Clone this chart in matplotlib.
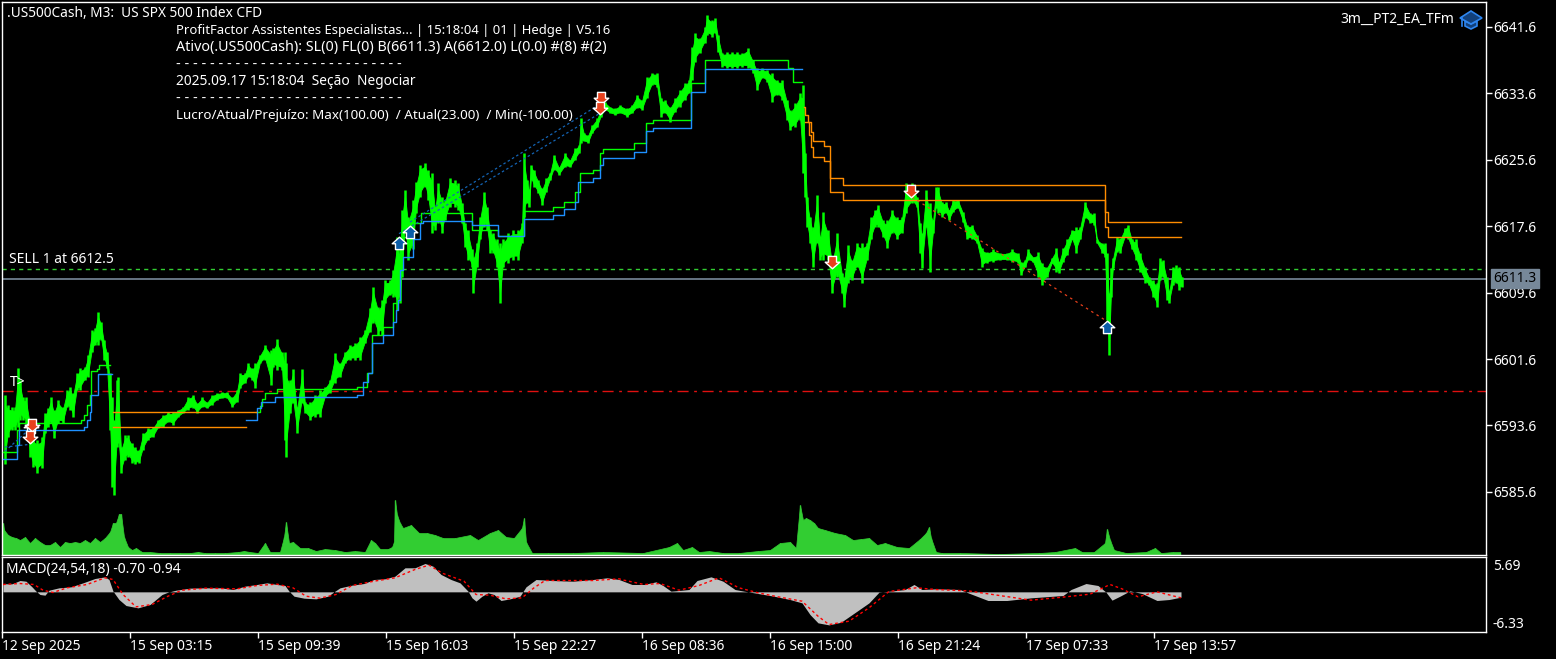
import numpy as np
import matplotlib.pyplot as plt
from matplotlib.path import Path
from matplotlib.patches import Polygon

W, H = 1556, 659
plt.rcParams['font.family'] = ['Noto Sans', 'DejaVu Sans']

# price range, sampled every few M3 bars
bars = [2, 5, 9, 12, 15, 17, 20, 23, 27, 30, 34, 39, 42, 45, 48, 51, 55, 60, 64, 67, 70, 74, 77, 82, 85, 89, 92, 95, 98, 101,
        104, 107, 109, 111, 114, 115, 118, 122, 125, 129, 132, 136, 140, 145, 150, 155, 160, 165, 170, 175, 180, 185, 190, 194, 199, 204, 209, 214, 219, 224,
        229, 234, 237, 242, 245, 249, 252, 257, 262, 268, 270, 274, 279, 282, 283, 287, 290, 294, 299, 302, 307, 312, 317, 322, 327, 332, 337, 342, 347, 352,
        357, 362, 367, 370, 375, 379, 382, 387, 390, 394, 397, 399, 402, 405, 410, 413, 417, 422, 425, 429, 432, 435, 439, 442, 447, 452, 455, 459, 462, 465,
        469, 470, 474, 477, 481, 484, 487, 490, 494, 497, 500, 505, 510, 515, 519, 521, 524, 526, 528, 531, 535, 539, 543, 547, 551, 556, 562, 567, 572, 576,
        578, 581, 585, 589, 594, 598, 602, 607, 612, 617, 624, 629, 634, 639, 644, 649, 654, 658, 662, 667, 672, 677, 682, 686, 689, 692, 697, 702, 704, 709,
        712, 715, 719, 724, 729, 734, 739, 745, 750, 754, 759, 764, 769, 774, 779, 784, 787, 792, 797, 800, 802, 804, 807, 810, 814, 817, 820, 825, 829, 834,
        839, 841, 845, 849, 854, 859, 864, 868, 872, 875, 880, 884, 889, 894, 899, 903, 909, 914, 917, 919, 923, 927, 930, 933, 935, 939, 943, 946, 950, 955,
        960, 964, 969, 974, 979, 984, 990, 997, 1004, 1009, 1015, 1018, 1022, 1025, 1030, 1035, 1039, 1044, 1049, 1053, 1056, 1060, 1064, 1069, 1073, 1077, 1082, 1087, 1091, 1094,
        1099, 1102, 1104, 1106, 1108, 1110, 1114, 1117, 1122, 1125, 1129, 1133, 1137, 1142, 1146, 1150, 1154, 1157, 1160, 1164, 1166, 1170, 1173, 1176, 1179]
highs = [6597.3, 6596.1, 6595.8, 6595.8, 6600.5, 6599.1, 6597.0, 6597.0, 6594.3, 6592.2, 6591.9, 6592.2, 6595.1, 6595.7, 6597.0, 6595.5, 6596.7, 6595.8, 6597.9, 6598.2, 6597.5, 6599.9, 6600.5, 6600.7, 6602.1, 6605.1, 6605.3, 6607.3, 6606.1, 6603.9,
         6602.5, 6599.9, 6597.0, 6594.3, 6599.1, 6599.4, 6591.0, 6592.5, 6592.5, 6591.5, 6591.0, 6590.7, 6592.7, 6593.3, 6593.4, 6594.3, 6594.9, 6595.2, 6595.2, 6595.5, 6595.8, 6597.0, 6597.3, 6596.3, 6597.0, 6596.4, 6597.3, 6597.5, 6597.6, 6597.6,
         6597.0, 6597.9, 6599.9, 6599.9, 6601.1, 6600.5, 6601.1, 6602.1, 6603.3, 6602.7, 6602.9, 6604.0, 6602.5, 6602.5, 6601.1, 6599.1, 6600.4, 6595.8, 6600.4, 6596.4, 6596.4, 6597.3, 6597.9, 6598.2, 6599.1, 6602.3, 6601.1, 6602.5, 6603.3, 6603.5,
         6604.3, 6605.1, 6607.8, 6610.3, 6607.9, 6608.7, 6611.1, 6611.1, 6612.3, 6616.3, 6614.8, 6619.6, 6622.0, 6618.7, 6620.8, 6622.9, 6625.0, 6625.2, 6624.4, 6624.0, 6619.9, 6622.8, 6621.1, 6620.8, 6623.4, 6623.2, 6622.8, 6620.4, 6618.0, 6617.2,
         6614.8, 6613.9, 6615.6, 6618.7, 6621.7, 6619.9, 6617.2, 6616.8, 6616.0, 6615.6, 6616.0, 6616.8, 6617.2, 6617.2, 6618.0, 6626.4, 6623.2, 6622.0, 6625.0, 6624.4, 6623.2, 6622.2, 6623.4, 6624.0, 6626.2, 6624.7, 6626.4, 6625.6, 6627.0, 6627.4,
         6630.6, 6628.8, 6628.6, 6629.8, 6630.6, 6631.8, 6632.6, 6632.0, 6631.8, 6632.2, 6631.8, 6632.2, 6633.4, 6632.8, 6635.6, 6636.1, 6636.1, 6633.0, 6632.8, 6632.0, 6633.0, 6634.0, 6634.9, 6635.2, 6639.2, 6640.9, 6640.3, 6641.6, 6643.0, 6642.4,
         6642.7, 6640.6, 6638.5, 6638.6, 6638.6, 6638.6, 6638.5, 6639.1, 6637.6, 6636.6, 6636.6, 6636.4, 6636.1, 6635.2, 6635.2, 6632.8, 6631.6, 6632.4, 6633.6, 6634.6, 6626.4, 6621.1, 6618.7, 6617.5, 6621.4, 6616.3, 6619.3, 6617.2, 6613.5, 6616.8,
         6612.0, 6611.5, 6615.3, 6613.5, 6615.6, 6615.6, 6615.6, 6618.7, 6619.6, 6620.2, 6618.3, 6618.3, 6619.6, 6618.7, 6618.7, 6622.8, 6622.8, 6621.1, 6618.0, 6616.8, 6622.0, 6620.4, 6618.3, 6622.3, 6622.3, 6620.5, 6620.5, 6619.6, 6620.8, 6620.8,
         6619.3, 6617.8, 6617.8, 6616.5, 6615.0, 6614.5, 6614.8, 6614.4, 6614.4, 6614.8, 6614.4, 6613.3, 6613.5, 6614.8, 6613.9, 6614.5, 6613.2, 6612.7, 6613.8, 6615.0, 6613.3, 6615.0, 6616.0, 6617.2, 6617.5, 6617.5, 6620.5, 6619.2, 6619.2, 6616.0,
         6615.6, 6615.6, 6614.4, 6609.6, 6612.6, 6613.8, 6616.3, 6616.2, 6617.4, 6617.8, 6616.0, 6616.0, 6614.4, 6612.7, 6611.5, 6611.1, 6610.8, 6613.8, 6613.5, 6611.5, 6609.7, 6612.7, 6612.9, 6612.7, 6611.5]
lows = [6588.9, 6592.2, 6593.1, 6593.1, 6593.4, 6594.3, 6594.3, 6593.9, 6589.8, 6588.6, 6587.9, 6588.5, 6592.7, 6593.4, 6593.9, 6592.1, 6593.9, 6593.9, 6595.8, 6595.5, 6594.6, 6597.9, 6597.9, 6599.1, 6599.4, 6602.5, 6603.3, 6603.3, 6603.9, 6601.5,
        6600.5, 6593.1, 6586.2, 6585.2, 6591.0, 6591.5, 6587.9, 6589.5, 6589.8, 6589.1, 6588.9, 6589.1, 6590.7, 6591.9, 6592.2, 6593.3, 6593.4, 6594.0, 6593.7, 6594.6, 6595.1, 6595.5, 6595.7, 6595.1, 6595.8, 6595.7, 6596.1, 6596.7, 6596.9, 6596.9,
        6595.8, 6596.4, 6598.1, 6598.7, 6599.4, 6599.1, 6598.1, 6601.1, 6601.5, 6598.5, 6600.7, 6600.3, 6600.3, 6591.9, 6589.8, 6595.1, 6596.3, 6592.7, 6596.3, 6595.1, 6594.3, 6594.6, 6594.6, 6597.0, 6597.5, 6598.7, 6599.4, 6601.1, 6601.5, 6601.5,
        6601.5, 6603.5, 6604.8, 6606.0, 6604.5, 6604.5, 6608.4, 6609.3, 6609.1, 6607.5, 6608.4, 6611.5, 6617.2, 6613.5, 6614.8, 6619.2, 6621.1, 6622.3, 6620.8, 6616.8, 6617.2, 6618.0, 6616.8, 6618.3, 6619.9, 6619.9, 6619.6, 6618.0, 6615.1, 6613.5,
        6612.7, 6609.6, 6612.7, 6616.0, 6617.5, 6617.2, 6614.4, 6614.4, 6612.7, 6608.4, 6612.7, 6613.2, 6613.5, 6613.5, 6615.6, 6618.7, 6620.4, 6619.9, 6623.2, 6622.3, 6621.6, 6620.2, 6621.7, 6623.2, 6624.4, 6623.8, 6624.7, 6624.7, 6625.6, 6626.4,
        6627.6, 6627.8, 6627.6, 6628.8, 6629.5, 6630.8, 6631.6, 6631.2, 6631.0, 6631.2, 6630.8, 6631.2, 6631.8, 6631.6, 6633.0, 6634.6, 6634.4, 6630.8, 6631.2, 6630.2, 6631.4, 6632.0, 6632.8, 6633.6, 6635.2, 6637.4, 6638.5, 6639.7, 6640.6, 6640.4,
        6640.9, 6638.6, 6636.8, 6636.6, 6636.6, 6636.6, 6636.8, 6636.6, 6636.1, 6634.0, 6635.5, 6635.0, 6632.6, 6633.4, 6632.8, 6630.4, 6629.2, 6629.5, 6630.4, 6624.0, 6621.1, 6617.5, 6615.6, 6612.7, 6615.6, 6613.5, 6613.5, 6613.5, 6609.6, 6611.5,
        6609.6, 6607.9, 6610.8, 6611.1, 6612.7, 6610.8, 6613.5, 6616.0, 6617.5, 6617.5, 6616.3, 6615.0, 6616.8, 6616.0, 6616.8, 6619.2, 6620.4, 6619.9, 6614.4, 6612.6, 6617.5, 6612.1, 6616.8, 6619.8, 6619.2, 6618.7, 6619.2, 6618.3, 6619.3, 6619.8,
        6618.1, 6616.0, 6616.0, 6615.6, 6612.7, 6613.2, 6613.3, 6613.5, 6613.5, 6613.3, 6613.2, 6611.7, 6612.7, 6613.5, 6613.3, 6611.5, 6610.5, 6611.5, 6613.2, 6612.1, 6612.0, 6613.3, 6614.1, 6616.0, 6614.4, 6616.0, 6618.6, 6618.0, 6617.8, 6615.6,
        6614.4, 6613.9, 6606.3, 6602.1, 6609.1, 6612.6, 6614.5, 6614.4, 6616.3, 6616.0, 6614.8, 6613.5, 6612.1, 6610.8, 6610.5, 6609.1, 6607.9, 6611.1, 6611.5, 6608.7, 6608.4, 6610.5, 6610.8, 6609.9, 6610.3]

# trailing levels, each list holds the bar where the level changes
green1_bar = [0, 14, 16, 76, 78, 81, 84, 87, 88, 94, 96, 107]
green1_val = [6590.4, 6593.1, 6593.9, 6593.9, 6594.2, 6594.9, 6596.1, 6597.3, 6600.1, 6600.4, 6600.9, 6600.9]
blue1_bar = [0, 14, 16, 79, 81, 84, 87, 88, 95, 109]
blue1_val = [6589.6, 6591.3, 6593.0, 6593.0, 6593.4, 6594.3, 6595.2, 6597.3, 6599.8, 6599.8]
green2_bar = [253, 257, 259, 262, 274, 354, 364, 369, 380, 390, 394, 397, 410, 418, 469, 495, 521, 550, 561, 572, 577, 590, 597, 600, 631, 643, 650, 688, 702, 785, 790, 799]
green2_val = [6595.2, 6596.0, 6596.8, 6597.5, 6598.0, 6598.2, 6599.9, 6604.5, 6605.5, 6608.4, 6611.1, 6616.3, 6618.0, 6619.2, 6617.2, 6616.4, 6619.4, 6619.9, 6620.5, 6621.7, 6624.0, 6624.4, 6626.4, 6626.9, 6627.6, 6630.0, 6630.4, 6634.9, 6637.6, 6636.6, 6635.0, 6635.0]
blue2_bar = [243, 254, 258, 272, 354, 360, 365, 369, 380, 390, 393, 395, 397, 400, 410, 417, 420, 469, 495, 521, 550, 561, 572, 575, 590, 597, 600, 631, 643, 650, 688, 702, 799]
blue2_val = [6594.3, 6595.7, 6596.4, 6597.0, 6597.3, 6598.8, 6599.9, 6603.5, 6604.5, 6606.1, 6607.5, 6608.7, 6612.3, 6613.9, 6616.0, 6618.0, 6618.2, 6617.7, 6616.4, 6618.5, 6619.0, 6619.7, 6620.5, 6622.9, 6623.4, 6625.0, 6625.8, 6626.5, 6629.1, 6629.4, 6633.8, 6636.5, 6636.5]
orange1_bar = [110, 253]
orange1_val = [6595.2, 6595.2]
orange2_bar = [110, 243]
orange2_val = [6593.4, 6593.4]
orange3_bar = [801, 802, 805, 808, 810, 821, 827, 840, 1102, 1105, 1178]
orange3_val = [6632.0, 6631.0, 6630.2, 6629.0, 6627.8, 6627.3, 6623.4, 6622.6, 6619.3, 6618.1, 6618.1]
orange4_bar = [802, 806, 808, 810, 821, 827, 840, 1102, 1105, 1178]
orange4_val = [6630.2, 6628.6, 6627.1, 6625.9, 6625.5, 6621.7, 6620.8, 6617.5, 6616.3, 6616.3]

# trades
buy_bar = [28, 396, 407, 1104]
buy_price = [6593.3, 6615.5, 6616.8, 6605.3]
sell_bar = [29, 27, 598, 597, 829, 908]
sell_price = [6593.8, 6592.3, 6633.2, 6632.0, 6613.4, 6621.9]
deal_blue = [([396, 597], [6616.7, 6631.2]), ([407, 597], [6618.1, 6632.3]), ([2, 25], [6590.5, 6593.0]), ([2, 25], [6591.0, 6591.3])]
deal_red = [([909, 1102], [6621.1, 6606.3])]

sell_level = 6612.5
bid_level = 6611.3
tp_level = 6597.8

price_ticks = [6641.6, 6633.6, 6625.6, 6617.6, 6609.6, 6601.6, 6593.6, 6585.6]

# tick volume
vol_bar = [0, 1, 5, 9, 13, 17, 22, 27, 32, 37, 42, 47, 52, 57, 62, 67, 72, 77, 82, 87, 92, 97, 102, 107, 110, 113, 116, 118, 121, 125, 129, 133, 139, 147, 157, 167, 177, 187, 195, 202, 212, 222, 235, 241, 247, 255,
           262, 267, 277, 281, 283, 286, 290, 297, 305, 313, 322, 332, 342, 352, 362, 368, 372, 377, 385, 389, 391, 392, 394, 397, 400, 408, 416, 424, 432, 440, 452, 467, 475, 487, 495, 503, 511, 519, 521, 523, 529, 545,
           570, 600, 640, 666, 674, 680, 689, 696, 706, 720, 736, 755, 767, 777, 787, 793, 797, 800, 803, 807, 811, 815, 822, 832, 842, 850, 858, 866, 874, 882, 894, 906, 917, 923, 926, 928, 933, 939, 957, 996, 1036, 1052, 1072, 1079, 1091, 1102, 1104, 1107, 1111, 1123, 1143, 1152, 1158, 1170, 1177]
vol_val = [32, 25, 20, 18, 17, 15, 18, 12, 17, 13, 10, 10, 13, 8, 13, 12, 13, 12, 15, 12, 17, 13, 17, 23, 32, 32, 41, 41, 18, 8, 5, 7, 3, 3, 2, 2, 2, 2, 3, 2, 2, 2, 3, 4, 3, 2,
           12, 3, 3, 18, 33, 12, 13, 7, 7, 4, 6, 5, 3, 4, 3, 15, 12, 6, 6, 8, 13, 55, 40, 32, 27, 30, 22, 22, 20, 17, 17, 20, 15, 22, 25, 18, 17, 27, 37, 13, 2, 2,
           2, 3, 2, 8, 12, 5, 8, 3, 4, 2, 2, 4, 5, 12, 13, 7, 50, 35, 37, 35, 32, 27, 25, 22, 20, 15, 16, 17, 10, 12, 8, 7, 16, 22, 28, 17, 3, 2, 2, 1, 2, 3, 7, 3, 3, 12, 26, 15, 5, 2, 3, 7, 2, 3, 3]

# MACD(24,54,18)
macd_bar = [0, 9, 17, 23, 29, 33, 37, 42, 46, 56, 68, 80, 92, 102, 106, 110, 116, 123, 135, 147, 159, 165, 173, 187, 203, 218, 230, 242, 254, 264, 274, 282, 286, 291, 301, 313, 325, 331, 337, 349, 361, 371, 382, 392, 402, 412, 422, 430, 438, 448, 457, 465, 469, 473, 479, 485, 491, 498, 507, 517, 523, 533, 550, 570, 590, 604, 616,
            629, 641, 653, 660, 668, 676, 686, 694, 708, 720, 732, 741, 751, 771, 787, 799, 807, 815, 826, 838, 854, 866, 876, 890, 902, 911, 919, 933, 957, 965, 985, 1004, 1028, 1060, 1068, 1083, 1095, 1103, 1109, 1117, 1127, 1139, 1154, 1166, 1178]
macd_val = [1.66, 1.66, 2.34, 2.2, 1.03, 0.14, -0.55, -0.69, 0.34, 0.83, 1.03, 1.86, 2.76, 3.1, 2.55, 0.14, -1.59, -2.83, -3.31, -2.62, -0.55, -0.07, 0.34, 0.76, 0.83, 0.83, 0.48, 1.17, 1.52, 1.86, 1.52, 1.31, 0.14, -0.9, -1.31, -1.45, -0.9, 0, 0.83, 1.38, 1.72, 2.55, 2.69, 3.24, 4.97, 4.97, 5.86, 5.3, 3.59, 2.55, 1.86, 0.14, -1.24, -1.93, -0.9, -0.2, -0.55, -1.79, -1.45, -0.9, 1.03, 2.55, 2.34, 2.2, 2.55, 2.9, 2.55,
            1.52, 1.52, 2.07, 1.31, 0.14, 0.28, 0.48, 2.34, 3.1, 2.2, 0.48, 0.14, -0.2, -0.9, -1.59, -2.28, -4.69, -6.41, -6.83, -6.28, -4.0, -2.28, -0.07, 0.2, 0.48, 1.52, 0.48, 0.62, 0.48, -0.2, -1.79, -1.79, -1.24, -0.76, 0.48, 1.72, 1.31, -0.07, -1.72, -0.9, 0.2, -0.34, -1.79, -1.59, -1.1]
signal_bar = [0, 17, 31, 40, 50, 64, 84, 102, 110, 120, 133, 149, 165, 179, 202, 234, 254, 274, 290, 303, 317, 333, 349, 371, 392, 412, 426, 440, 461, 473, 487, 503, 519, 531, 542, 590, 616,
              621, 641, 657, 676, 696, 716, 736, 755, 775, 799, 815, 826, 846, 866, 886, 913, 933, 965, 1028, 1063, 1087, 1107, 1119, 1135, 1154, 1178]
signal_val = [1.52, 1.72, 1.52, 0.34, -0.14, 0.83, 1.52, 2.9, 2.55, -0.55, -3.1, -2.62, -0.9, 0.34, 0.76, 0.62, 1.31, 1.59, 0.83, -0.9, -1.31, -0.55, 1.31, 2.2, 2.9, 4.62, 5.52, 3.8, 2.2, -0.55, -0.69, -1.45, -1.24, 0.83, 2.34, 2.34, 2.69,
              2.41, 1.52, 1.72, 0.34, 1.31, 2.9, 0.83, -0.2, -1.03, -1.93, -5.03, -6.76, -6.07, -3.31, 0.07, 0.83, 0.48, 0.2, -1.72, -1.03, -0.48, 1.52, 0.62, -1.03, 0, -1.24]
macd_ticks = [5.69, -6.33]

time_ticks = [-1, 127, 255, 383, 511, 639, 767, 895, 1023, 1151]
time_labels = ['12 Sep 2025', '15 Sep 03:15', '15 Sep 09:39', '15 Sep 16:03', '15 Sep 22:27',
               '16 Sep 08:36', '16 Sep 15:00', '16 Sep 21:24', '17 Sep 07:33', '17 Sep 13:57']

info_lines = ['ProfitFactor Assistentes Especialistas... | 15:18:04 | 01 | Hedge | V5.16',
              'Ativo(.US500Cash): SL(0) FL(0) B(6611.3) A(6612.0) L(0.0) #(8) #(2)',
              '- - - - - - - - - - - - - - - - - - - - - - - - - - -',
              '2025.09.17 15:18:04  Seção  Negociar',
              '- - - - - - - - - - - - - - - - - - - - - - - - - - -',
              'Lucro/Atual/Prejuízo: Max(100.00)  / Atual(23.00)  / Min(-100.00)']
info_sizes = [9.4, 10.3, 10.3, 9.9, 10.3, 9.7]

FS = 10


def panel(left, top, right, bottom):
    return fig.add_axes([left / W, 1 - bottom / H, (right - left) / W, (bottom - top) / H], facecolor='black')


def put_text(x, y, s, **kw):
    kw.setdefault('color', 'white')
    kw.setdefault('fontsize', FS)
    kw.setdefault('va', 'baseline')
    fig.text(x / W, 1 - (y + 4) / H, s, **kw)


fig = plt.figure(figsize=(W / 100, H / 100), dpi=100, facecolor='black')

# volume sits at the bottom of the price panel on its own scale
vol_ax = panel(2, 2, 1486, 555)
vol_ax.set_xlim(-1, 1483)
vol_ax.set_ylim(0, 553)
vol_ax.axis('off')
vol_ax.fill_between(vol_bar, 0, vol_val, color='#32CD32', linewidth=0.5, zorder=1)
vol_ax.vlines(vol_bar, 0, vol_val, color='#32CD32', linewidth=1, zorder=1)

ax = panel(2, 2, 1486, 555)
ax.patch.set_visible(False)
ax2 = panel(2, 557, 1486, 632)

for a in (ax, ax2):
    a.set_xlim(-1, 1483)
    for side in a.spines:
        a.spines[side].set_color('white')
        a.spines[side].set_linewidth(1)
    a.yaxis.tick_right()
    a.tick_params(axis='y', colors='white', labelsize=FS, length=4, width=1, pad=1)

ax.set_ylim(6578.0, 6644.6)
ax.set_yticks(price_ticks)
ax.set_yticklabels(['%.1f' % p for p in price_ticks])
ax.set_xticks([])

# level lines
ax.axhline(sell_level, color='#32CD32', linewidth=1, dashes=(3, 3), zorder=1)
ax.axhline(bid_level, color='#778899', linewidth=1.2, zorder=1)
ax.axhline(tp_level, color='#E01010', linewidth=1, dashes=(8, 4, 2, 4), zorder=1)

# solid body with the wicks sticking out of it, so the outline stays jagged
highs_a = np.array(highs)
lows_a = np.array(lows)
spread = highs_a - lows_a
ax.fill_between(bars, lows_a + 0.15 * spread, highs_a - 0.15 * spread, color='#00FF00', linewidth=0.6, zorder=3)
ax.vlines(bars, lows_a, highs_a, color='#00FF00', linewidth=1.8, zorder=3)

for xs, ys in [(green1_bar, green1_val), (green2_bar, green2_val)]:
    ax.step(xs, ys, where='post', color='#00FF00', linewidth=1, zorder=4)
for xs, ys in [(blue1_bar, blue1_val), (blue2_bar, blue2_val)]:
    ax.step(xs, ys, where='post', color='#1E90FF', linewidth=1, zorder=4)
for xs, ys in [(orange1_bar, orange1_val), (orange2_bar, orange2_val), (orange3_bar, orange3_val), (orange4_bar, orange4_val)]:
    ax.step(xs, ys, where='post', color='#FF8C00', linewidth=1, zorder=4)

for xs, ys in deal_blue:
    ax.plot(xs, ys, color='#1464B4', linewidth=0.9, dashes=(2, 2), zorder=5)
for xs, ys in deal_red:
    ax.plot(xs, ys, color='#E8401C', linewidth=0.9, dashes=(2, 3), zorder=5)

arrow_up = Path([(0, 1), (1, 0.1), (0.55, 0.1), (0.55, -0.7), (-0.55, -0.7), (-0.55, 0.1), (-1, 0.1), (0, 1)], closed=True)
arrow_down = Path([(0, -1), (1, -0.1), (0.55, -0.1), (0.55, 0.7), (-0.55, 0.7), (-0.55, -0.1), (-1, -0.1), (0, -1)], closed=True)
ax.scatter(buy_bar, buy_price, marker=arrow_up, s=110, color='#0A5CA8', edgecolors='white', linewidths=1, zorder=6)
ax.scatter(sell_bar, sell_price, marker=arrow_down, s=110, color='#E8401C', edgecolors='white', linewidths=1, zorder=7)

# MACD panel
ax2.set_ylim(-8.3, 7.2)
ax2.fill_between(macd_bar, 0, macd_val, color='#C0C0C0', linewidth=0, zorder=2)
ax2.plot(signal_bar, signal_val, color='#FF0000', linewidth=1, dashes=(2, 2), zorder=3)
ax2.set_yticks(macd_ticks)
ax2.set_yticklabels(['5.69', '-6.33'])
ax2.tick_params(axis='y', length=0, pad=5)
ax2.set_xticks(time_ticks)
ax2.set_xticklabels(time_labels)
ax2.tick_params(axis='x', colors='white', labelsize=FS, length=4, width=1, pad=1)
for lab in ax2.get_xticklabels():
    lab.set_horizontalalignment('left')

# texts
put_text(7, 13, '.US500Cash, M3:  US SPX 500 Index CFD', fontsize=9.85)
for i, line in enumerate(info_lines):
    put_text(176, 30 + i * 17, line, fontsize=info_sizes[i])
put_text(9, 259, 'SELL 1 at 6612.5')
put_text(10, 382, 'T>')
put_text(6, 569, 'MACD(24,54,18) -0.70 -0.94')
put_text(1454, 19, '3m__PT2_EA_TFm', ha='right')

# current price box
put_text(1515, 278, '%.1f' % bid_level, color='black', ha='center', zorder=10,
         bbox=dict(facecolor='#778899', edgecolor='#778899', pad=0, boxstyle='square,pad=0.15'))

# graduation cap icon
cap_top = [(1460, 18), (1471, 11), (1482, 18), (1471, 24)]
cap_body = [(1465, 21), (1465, 26), (1471, 29), (1477, 26), (1477, 21), (1471, 24)]
for pts, face in [(cap_body, '#12407A'), (cap_top, '#12407A')]:
    fig.add_artist(Polygon([(x / W, 1 - y / H) for x, y in pts], closed=True, transform=fig.transFigure,
                           facecolor=face, edgecolor='#2E86F0', linewidth=1.2))
fig.add_artist(plt.Line2D([1462 / W, 1462 / W], [1 - 18 / H, 1 - 26 / H], color='#2E86F0', linewidth=1.2))

fig.savefig('out.png', dpi=100, facecolor='black')
